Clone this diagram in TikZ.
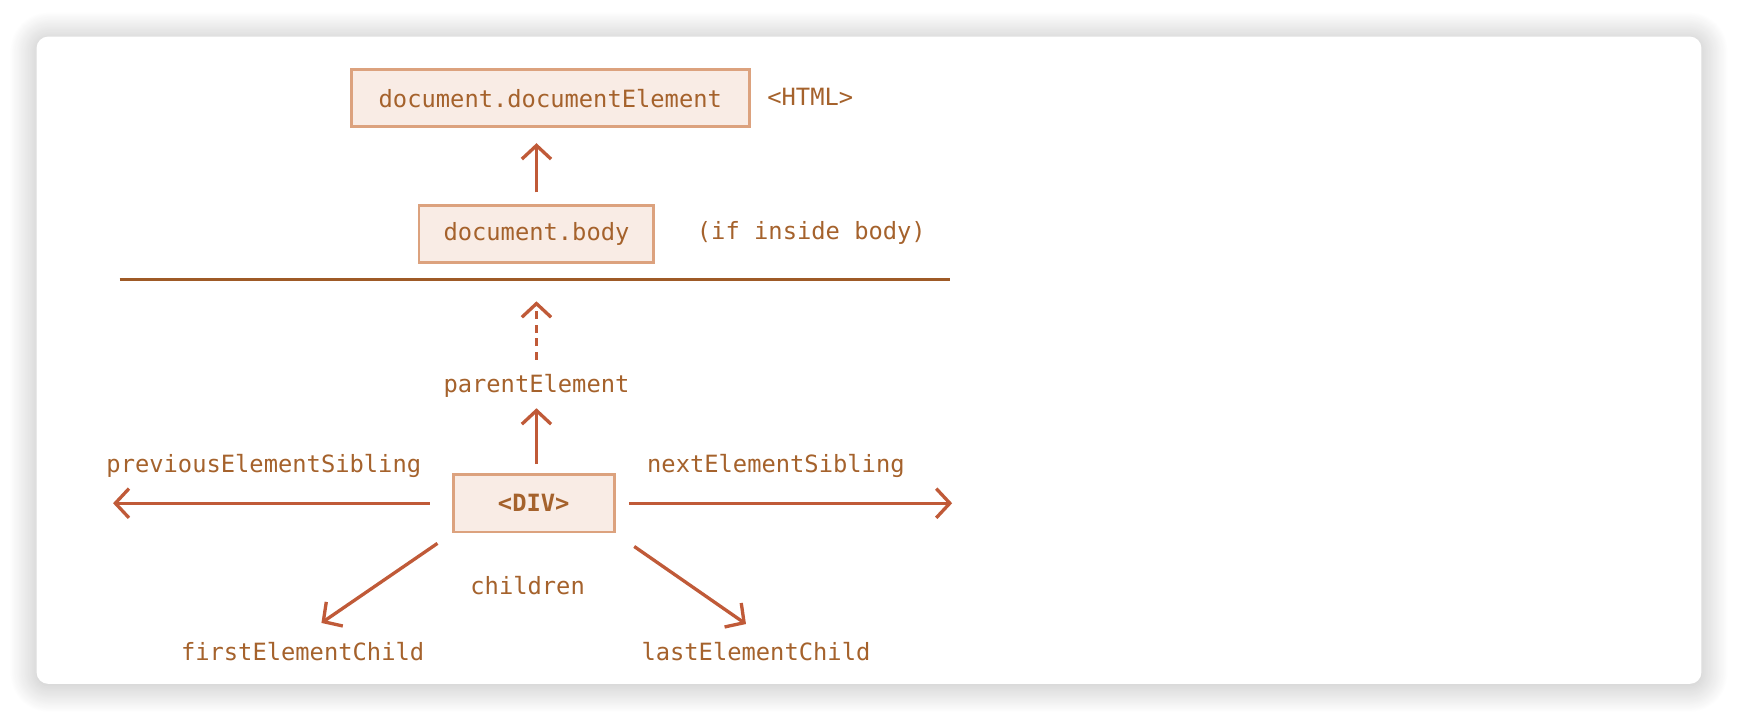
\documentclass[tikz,border=0pt]{standalone}
\usepackage{fontspec}
\setmonofont{DejaVu Sans Mono}
\usetikzlibrary{arrows.meta,shadows.blur}
\definecolor{boxfill}{HTML}{F9ECE5}
\definecolor{boxline}{HTML}{DCA27E}
\definecolor{labeltext}{HTML}{A5622C}
\definecolor{arrowline}{HTML}{C05A38}
\definecolor{rulecol}{HTML}{9E5A26}
\begin{document}
\begin{tikzpicture}[x=0.02cm,y=-0.02cm,
  font=\ttfamily\fontsize{12.2}{14}\selectfont,
  elbox/.style={draw=boxline,line width=1.5pt,fill=boxfill,text=labeltext,inner sep=0pt},
  lbl/.style={text=labeltext,inner sep=0pt,text height=9pt,text depth=3pt},
  arr/.style={draw=arrowline,line width=1.7pt,-{Straight Barb[length=7pt,width=15pt]}}]
\useasboundingbox (0,0) rectangle (1568,651);
\path[fill=white,rounded corners=6pt,blur shadow={shadow xshift=0pt,shadow yshift=-1pt,shadow blur radius=14pt,shadow blur steps=40,shadow opacity=28}] (33,33) rectangle (1535,617);
\node[elbox,minimum width=7.18cm,minimum height=1.02cm] (docel) at (496.5,88.5) {document.documentElement};
\node[lbl] (html) at (731,90) {<HTML>};
\node[elbox,minimum width=4.24cm,minimum height=1.04cm] (body) at (484,211) {document.body};
\node[lbl] (ifbody) at (732,211) {(if inside body)};
\coordinate (sepL) at (108,252);
\coordinate (sepR) at (857,252);
\draw[rulecol,line width=1.8pt] (sepL) -- (sepR);
\node[lbl] (parent) at (484,349) {parentElement};
\node[elbox,minimum width=2.9cm,minimum height=1.04cm,font=\ttfamily\bfseries\fontsize{12.2}{14}\selectfont] (div) at (481.5,454) {<DIV>};
\node[lbl] (prev) at (238,421) {previousElementSibling};
\node[lbl] (next) at (700,421) {nextElementSibling};
\node[lbl] (children) at (476,531) {children};
\node[lbl] (first) at (273,591) {firstElementChild};
\node[lbl] (last) at (682,591) {lastElementChild};
\coordinate (prevEnd) at (102,454);
\coordinate (nextEnd) at (859,454);
\coordinate (firstEnd) at (290,562);
\coordinate (lastEnd) at (673,563);
\draw[arr,shorten <=5.7pt,shorten >=7.9pt] (body.north) -- (body.north |- docel.south);
\draw[arr,dash pattern=on 4pt off 3pt,shorten <=7.7pt,shorten >=11.3pt] (parent.north) -- (parent.north |- sepL);
\draw[arr,shorten <=4.5pt,shorten >=4.8pt] (parent.south |- div.north) -- (parent.south);
\draw[arr,shorten <=11.3pt] (div.west) -- (prevEnd);
\draw[arr,shorten <=6.8pt] (div.east) -- (nextEnd);
\draw[arr,shorten <=9pt] (div.south west) -- (firstEnd);
\draw[arr,shorten <=11.7pt] (div.south east) -- (lastEnd);
\end{tikzpicture}
\end{document}
